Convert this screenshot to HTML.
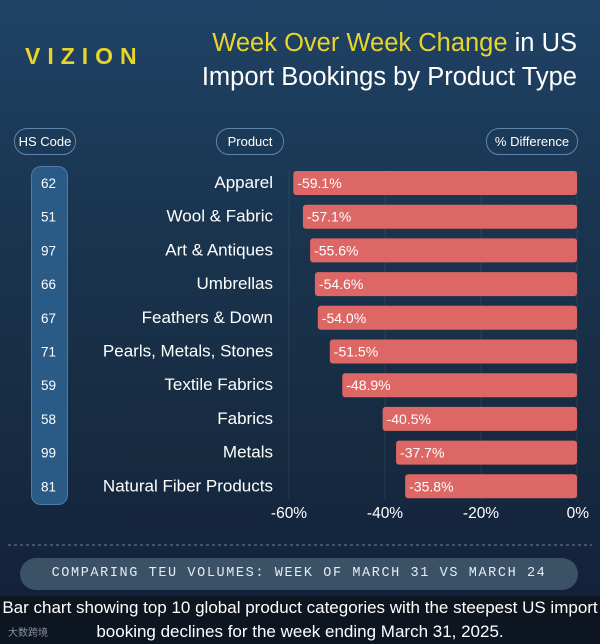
<!DOCTYPE html>
<html><head><meta charset="utf-8"><style>
body{margin:0;width:600px;height:644px;overflow:hidden;background:#0c1520;font-family:"Liberation Sans",sans-serif}
#main{position:absolute;left:0;top:0;width:600px;height:596px;background:linear-gradient(180deg,#1f4366 0%,#1a3550 35%,#172c42 70%,#13223a 100%)}
.pill{position:absolute;border:1px solid #5f86aa;background:#1b3a58;border-radius:13px;color:#fff;font-size:13px;text-align:center;line-height:25px;height:25px}
</style></head><body>
<div id="main">
<div style="position:absolute;left:25px;top:43px;color:#e8d42c;font-weight:bold;font-size:23px;letter-spacing:7px">VIZION</div>
<div style="position:absolute;right:23px;top:26px;text-align:right;color:#fff;font-size:25.5px;line-height:34px;white-space:nowrap"><span style="color:#e8d42c">Week Over Week Change</span> in US<br>Import Bookings by Product Type</div>
<div class="pill" style="left:14px;top:128px;width:60px">HS Code</div>
<div class="pill" style="left:216px;top:128px;width:66px">Product</div>
<div class="pill" style="left:486px;top:128px;width:90px">% Difference</div>
<div style="position:absolute;left:31px;top:166px;width:35px;height:337px;border-radius:10px;background:#2a5a86;border:1px solid #4f7ca6"></div>
<svg id="chart" width="600" height="596" style="position:absolute;left:0;top:0"></svg>
<div style="position:absolute;left:20px;top:558px;width:558px;height:32px;border-radius:16px;background:#3b5165;color:#e4ecf2;font-family:'Liberation Mono',monospace;font-size:13.5px;letter-spacing:1.6px;text-align:center;line-height:32px">COMPARING TEU VOLUMES: WEEK OF MARCH 31 VS MARCH 24</div>
</div>
<div style="position:absolute;left:0;top:596px;width:600px;text-align:center;color:#fff;font-size:17px;line-height:24px;white-space:nowrap">Bar chart showing top 10 global product categories with the steepest US import<br>booking declines for the week ending March 31, 2025.</div>
<div style="position:absolute;left:8px;top:624px;color:#8a9099;font-size:10px;font-family:'Liberation Sans','Noto Sans CJK SC',sans-serif">大数跨境</div>
<script>
const codes=["62","51","97","66","67","71","59","58","99","81"];
const products=["Apparel","Wool & Fabric","Art & Antiques","Umbrellas","Feathers & Down","Pearls, Metals, Stones","Textile Fabrics","Fabrics","Metals","Natural Fiber Products"];
const values=[-59.1,-57.1,-55.6,-54.6,-54.0,-51.5,-48.9,-40.5,-37.7,-35.8];
const ticks=[-60,-40,-20,0];
const svg=document.getElementById('chart');const NS='http://www.w3.org/2000/svg';
const x=v=>577+v*4.8;const y=i=>183+i*33.7;
function mk(t,a){const e=document.createElementNS(NS,t);for(const k in a)e.setAttribute(k,a[k]);svg.appendChild(e);return e;}
ticks.forEach(t=>{const g=mk('line',{x1:x(t),x2:x(t),y1:170,y2:500,stroke:'#ffffff',"stroke-opacity":0.08});


const l=mk('text',{x:x(t),y:518,fill:'#fff','font-size':15.5,'text-anchor':t===0?'end':'middle','font-family':'Liberation Sans'});l.textContent=t+'%';
if(t===0)l.setAttribute('x',589);

});
const d=mk('line',{x1:8,x2:592,y1:545,y2:545,stroke:'#6c8296','stroke-dasharray':'3 3'});


values.forEach((v,i)=>{
const r=mk('rect',{x:x(v),y:y(i)-12,width:x(0)-x(v),height:24,rx:3,fill:'#dd6764'});


const vt=mk('text',{x:x(v)+4,y:y(i)+5,fill:'#fff','font-size':14,'font-family':'Liberation Sans'});vt.textContent=v.toFixed(1)+'%';


const pt=mk('text',{x:273,y:y(i)+5,fill:'#fff','font-size':17,'text-anchor':'end','font-family':'Liberation Sans'});pt.textContent=products[i];


const ct=mk('text',{x:48.5,y:y(i)+5,fill:'#fff','font-size':13.5,'text-anchor':'middle','font-family':'Liberation Sans'});ct.textContent=codes[i];


});
</script>
</body></html>
